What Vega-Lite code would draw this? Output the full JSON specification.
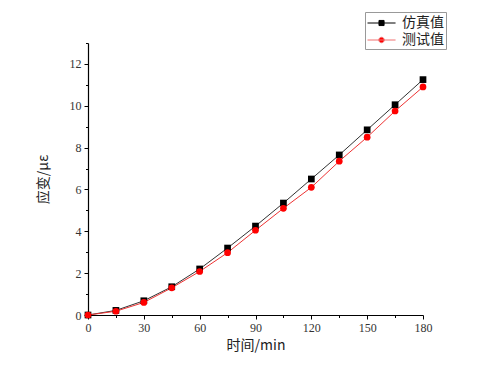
{
  "$schema": "https://vega.github.io/schema/vega-lite/v6.json",
  "width": 335,
  "height": 272,
  "autosize": {"type": "none"},
  "padding": {"left": 88, "top": 43, "right": 69, "bottom": 62},
  "background": "white",
  "config": {
    "view": {"stroke": null},
    "axis": {
      "domainColor": "#000",
      "domainWidth": 1.2,
      "tickColor": "#000",
      "tickWidth": 1,
      "grid": false,
      "titleFont": "Noto Sans CJK SC",
      "titleFontSize": 14,
      "titleFontWeight": "normal",
      "titleColor": "#222"
    }
  },
  "data": {
    "values": [
      {"t": 0, "v": 0, "s": "仿真值"},
      {"t": 15, "v": 0.22, "s": "仿真值"},
      {"t": 30, "v": 0.68, "s": "仿真值"},
      {"t": 45, "v": 1.35, "s": "仿真值"},
      {"t": 60, "v": 2.2, "s": "仿真值"},
      {"t": 75, "v": 3.2, "s": "仿真值"},
      {"t": 90, "v": 4.25, "s": "仿真值"},
      {"t": 105, "v": 5.35, "s": "仿真值"},
      {"t": 120, "v": 6.5, "s": "仿真值"},
      {"t": 135, "v": 7.65, "s": "仿真值"},
      {"t": 150, "v": 8.85, "s": "仿真值"},
      {"t": 165, "v": 10.05, "s": "仿真值"},
      {"t": 180, "v": 11.25, "s": "仿真值"},
      {"t": 0, "v": 0, "s": "测试值"},
      {"t": 15, "v": 0.18, "s": "测试值"},
      {"t": 30, "v": 0.6, "s": "测试值"},
      {"t": 45, "v": 1.3, "s": "测试值"},
      {"t": 60, "v": 2.08, "s": "测试值"},
      {"t": 75, "v": 2.98, "s": "测试值"},
      {"t": 90, "v": 4.05, "s": "测试值"},
      {"t": 105, "v": 5.1, "s": "测试值"},
      {"t": 120, "v": 6.1, "s": "测试值"},
      {"t": 135, "v": 7.35, "s": "测试值"},
      {"t": 150, "v": 8.5, "s": "测试值"},
      {"t": 165, "v": 9.75, "s": "测试值"},
      {"t": 180, "v": 10.9, "s": "测试值"}
    ]
  },
  "encoding": {
    "x": {
      "field": "t", "type": "quantitative",
      "scale": {"domain": [0, 180], "nice": false},
      "axis": {
        "title": "时间/min",
        "values": [0, 15, 30, 45, 60, 75, 90, 105, 120, 135, 150, 165, 180],
        "labelExpr": "datum.value % 30 === 0 ? datum.label : ''",
        "tickSize": {"condition": {"test": "datum.value % 30 === 0", "value": 4}, "value": 2.5},
        "labelFont": "serif",
        "labelFontSize": 12,
        "labelColor": "#333",
        "labelPadding": 3,
        "titlePadding": 5,
        "labelFlush": false
      }
    },
    "y": {
      "field": "v", "type": "quantitative",
      "scale": {"domain": [0, 13], "nice": false},
      "axis": {
        "title": "应变/με",
        "values": [0, 1, 2, 3, 4, 5, 6, 7, 8, 9, 10, 11, 12, 13],
        "labelExpr": "datum.value % 2 === 0 && datum.value <= 12 ? datum.label : ''",
        "tickSize": {"condition": {"test": "datum.value % 2 === 0", "value": 4}, "value": 2.5},
        "labelFont": "serif",
        "labelFontSize": 12,
        "labelColor": "#333",
        "labelPadding": 3,
        "titlePadding": 19,
        "labelFlush": false
      }
    }
  },
  "layer": [
    {
      "mark": {"type": "line", "strokeWidth": 1, "clip": false},
      "encoding": {
        "detail": {"field": "s"},
        "color": {
          "field": "s", "type": "nominal",
          "scale": {"domain": ["仿真值", "测试值"], "range": ["#333333", "#ee3333"]},
          "legend": null
        }
      }
    },
    {
      "mark": {"type": "point", "filled": true, "opacity": 1, "size": 45, "clip": false},
      "encoding": {
        "shape": {
          "field": "s", "type": "nominal",
          "scale": {"domain": ["仿真值", "测试值"], "range": ["square", "circle"]},
          "legend": null
        },
        "color": {
          "field": "s", "type": "nominal",
          "scale": {"domain": ["仿真值", "测试值"], "range": ["#000000", "#ff0000"]},
          "legend": {
            "title": null,
            "orient": "none",
            "legendX": 277,
            "legendY": -31,
            "strokeColor": "#999",
            "fillColor": "white",
            "padding": 2,
            "rowPadding": 1,
            "symbolSize": 289,
            "symbolStrokeWidth": 1,
            "symbolType": {"expr": "datum.value === '仿真值' ? 'M-1,0H2.3M0.35,-0.3H0.95V0.3H0.35Z' : 'M-1,0H2.3M0.97,0A0.32,0.32,0,1,1,0.33,0A0.32,0.32,0,1,1,0.97,0Z'"},
            "symbolStrokeColor": {"expr": "datum.value === '仿真值' ? '#000000' : '#f07070'"},
            "labelFont": "Noto Sans CJK SC",
            "labelFontSize": 14,
            "labelColor": "#222",
            "labelOffset": 17
          }
        }
      }
    }
  ],
  "resolve": {"scale": {"color": "independent"}}
}
